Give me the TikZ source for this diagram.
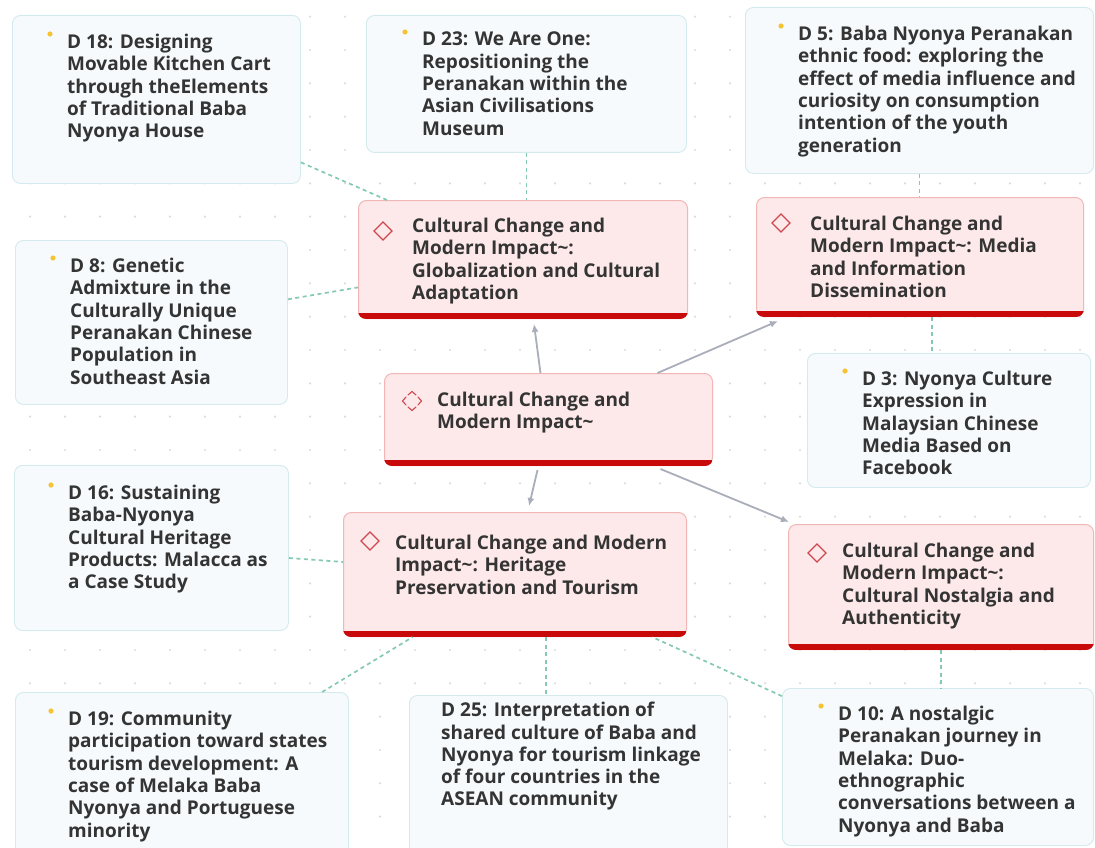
\documentclass[tikz,border=0pt]{standalone}
\usepackage{fontspec}
\setmainfont{Open Sans}
\usetikzlibrary{arrows.meta,calc}
\definecolor{leaffill}{HTML}{F6FAFC}
\definecolor{leafline}{HTML}{D3EBEE}
\definecolor{redfill}{HTML}{FDE9E9}
\definecolor{redline}{HTML}{F2B6B6}
\definecolor{redbar}{HTML}{C80A0A}
\definecolor{iconc}{HTML}{D0484F}
\definecolor{txtc}{HTML}{343434}
\definecolor{dashc}{HTML}{84C9B3}
\definecolor{arrowc}{HTML}{A9AEBA}
\definecolor{dotc}{HTML}{DCDCDC}
\definecolor{bulc}{HTML}{F6C334}
\newcommand\tld{\textasciitilde}
\tikzset{
  leaf/.style={draw=leafline, fill=leaffill, line width=0.9pt, rounded corners=8pt, inner sep=0pt, anchor=north west},
  topic/.style={draw=redline, fill=redfill, line width=1pt, rounded corners=8pt, inner sep=0pt, anchor=north west},
  lbl/.style={anchor=north west, inner sep=0pt, align=left, text=txtc, font=\fontsize{19pt}{22.3pt}\selectfont\bfseries},
  link/.style={draw=dashc, line width=1.7pt, dash pattern=on 4pt off 3.5pt},
  arr/.style={draw=arrowc, line width=1.8pt, -{Latex[length=8pt,width=7pt]}},
  bullet/.style={fill=bulc},
  diam/.style={draw=iconc, line width=1.3pt, line join=miter},
}
\newcommand\tbar[1]{%
  \begin{scope}
    \clip[rounded corners=8pt] (#1.north west) rectangle (#1.south east);
    \fill[redbar] ($(#1.south west)+(0,-6.5)$) rectangle (#1.south east);
  \end{scope}}
\newcommand\diamondicon[1]{%
  \draw[diam] (#1) +(0,-9) -- +(9,0) -- +(0,9) -- +(-9,0) -- cycle;}
\begin{document}
\begin{tikzpicture}[x=1pt,y=-1pt]
\useasboundingbox (0,0) rectangle (1095,848);
\fill[white] (0,0) rectangle (1095,848);
% dot grid
\foreach \i in {0,...,30}{
  \foreach \j in {0,...,24}{
    \fill[dotc] (30+35*\i,16.7+33.33*\j) circle (1.2);
  }
}
% leaf boxes
\node[leaf, minimum width=288, minimum height=168] (d18) at (12,15) {};
\node[leaf, minimum width=320, minimum height=137] (d23) at (366,15) {};
\node[leaf, minimum width=348, minimum height=166] (d5) at (745,7) {};
\node[leaf, minimum width=272, minimum height=164] (d8) at (15,240) {};
\node[leaf, minimum width=283, minimum height=134] (d3) at (807,353) {};
\node[leaf, minimum width=274, minimum height=165] (d16) at (14,465) {};
\node[leaf, minimum width=333, minimum height=170] (d19) at (15,692) {};
\node[leaf, minimum width=318, minimum height=170] (d25) at (409,695) {};
\node[leaf, minimum width=311, minimum height=157] (d10) at (782,688) {};
% topic boxes
\node[topic, minimum width=329, minimum height=118] (glob) at (358,200) {};
\tbar{glob}
\node[topic, minimum width=327, minimum height=119] (media) at (756,197) {};
\tbar{media}
\node[topic, minimum width=328, minimum height=92] (center) at (384,373) {};
\tbar{center}
\node[topic, minimum width=343, minimum height=124] (heritage) at (343,512) {};
\tbar{heritage}
\node[topic, minimum width=305, minimum height=125] (nostalgia) at (788,524) {};
\tbar{nostalgia}
% icons
\coordinate (iglob) at (383,231);
\coordinate (imedia) at (781,223);
\coordinate (iher) at (370,541);
\coordinate (inos) at (817,553);
\diamondicon{iglob}
\diamondicon{imedia}
\diamondicon{iher}
\diamondicon{inos}
\coordinate (icen) at (412,401);
\draw[diam, line width=1.1pt, line cap=round]
  (icen) +(-4,-6) -- +(0,-9.5) -- +(4,-6)
  (icen) +(6,-4) -- +(9.5,0) -- +(6,4)
  (icen) +(-4,6) -- +(0,9.5) -- +(4,6)
  (icen) +(-6,-4) -- +(-9.5,0) -- +(-6,4);
% bullets
\foreach \p in {(50,34),(405,32),(781,26),(53,258),(845,371),(51,485),(51,711),(821,706)}{
  \fill[bullet] \p circle (2.6);
}
% texts
\node[lbl] (t18) at (67,34) {D 18: Designing\\Movable Kitchen Cart\\through theElements\\of Traditional Baba\\Nyonya House};
\node[lbl] (t23) at (422,32) {D 23: We Are One:\\Repositioning the\\Peranakan within the\\Asian Civilisations\\Museum};
\node[lbl] (t5) at (798,26) {D 5: Baba Nyonya Peranakan\\ethnic food: exploring the\\effect of media influence and\\curiosity on consumption\\intention of the youth\\generation};
\node[lbl] (t8) at (70,258) {D 8: Genetic\\Admixture in the\\Culturally Unique\\Peranakan Chinese\\Population in\\Southeast Asia};
\node[lbl] (t3) at (862,371) {D 3: Nyonya Culture\\Expression in\\Malaysian Chinese\\Media Based on\\Facebook};
\node[lbl] (t16) at (68,485) {D 16: Sustaining\\Baba-Nyonya\\Cultural Heritage\\Products: Malacca as\\a Case Study};
\node[lbl] (t19) at (68,711) {D 19: Community\\participation toward states\\tourism development: A\\case of Melaka Baba\\Nyonya and Portuguese\\minority};
\node[lbl] (t25) at (441,702) {D 25: Interpretation of\\shared culture of Baba and\\Nyonya for tourism linkage\\of four countries in the\\ASEAN community};
\node[lbl] (t10) at (838,706) {D 10: A nostalgic\\Peranakan journey in\\Melaka: Duo-\\ethnographic\\conversations between a\\Nyonya and Baba};
\node[lbl] (tglob) at (412,218) {Cultural Change and\\Modern Impact\tld:\\Globalization and Cultural\\Adaptation};
\node[lbl] (tmedia) at (810,216) {Cultural Change and\\Modern Impact\tld: Media\\and Information\\Dissemination};
\node[lbl] (tcenter) at (437,392) {Cultural Change and\\Modern Impact\tld};
\node[lbl] (ther) at (395,535) {Cultural Change and Modern\\Impact\tld: Heritage\\Preservation and Tourism};
\node[lbl] (tnos) at (842,543) {Cultural Change and\\Modern Impact\tld:\\Cultural Nostalgia and\\Authenticity};
% dashed links
\draw[link] (d18) -- (glob);
\draw[link] (d23.south) -- (d23.south |- glob.north);
\draw[link] (d8) -- (glob);
\draw[link] (d5.south) -- (d5.south |- media.north);
\coordinate (m3) at ($(media.south)+(12,0)$);
\draw[link] (m3) -- (m3 |- d3.north);
\draw[link] (d16) -- (heritage);
\draw[link] (d19) -- (heritage);
\coordinate (h25) at ($(heritage.south)+(31,0)$);
\draw[link] (h25) -- (h25 |- d25.north);
\draw[link] (d10) -- (heritage);
\draw[link] (nostalgia.south) -- (nostalgia.south |- d10.north);
% arrows
\draw[arr] ($(center.north)+(-8,0)$) -- ($(glob.south)+(11,5)$);
\draw[arr] ($(center.north)+(109,0)$) -- ($(media.south west)+(22,4)$);
\draw[arr] ($(center.south)+(-11,4)$) -- ($(heritage.north)+(14,-6)$);
\draw[arr] ($(center.south)+(112,3)$) -- ($(nostalgia.north west)+(1,-2)$);
\end{tikzpicture}
\end{document}
